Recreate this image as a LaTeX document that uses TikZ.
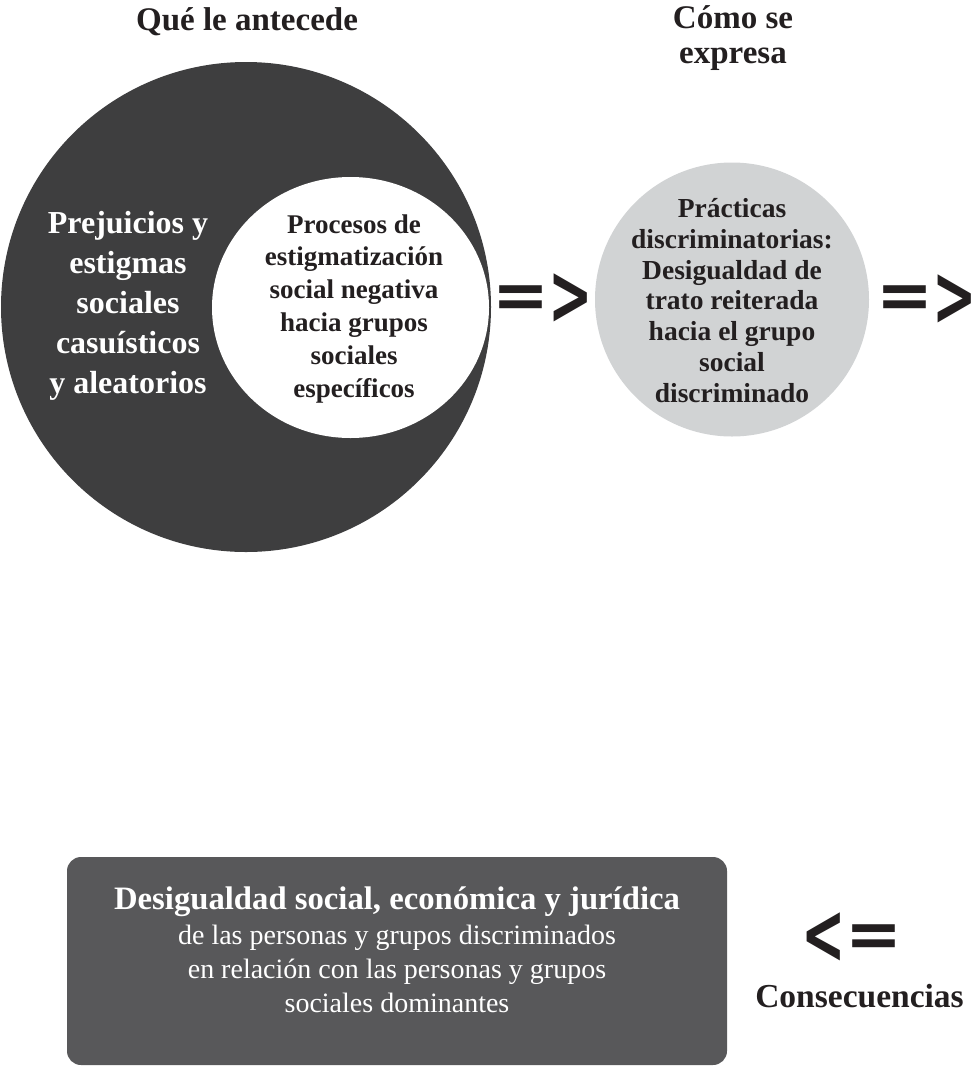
\documentclass[tikz,border=0pt]{standalone}
\usepackage{fontspec}
\usepackage{graphicx}
\setmainfont{Liberation Serif}
\newfontfamily\fDejaVu{DejaVu Sans}
\usetikzlibrary{shapes.geometric}
\definecolor{darkc}{HTML}{3E3E3F}
\definecolor{boxc}{HTML}{58585A}
\definecolor{grayc}{HTML}{D1D3D4}
\definecolor{ink}{HTML}{231F20}
\newcommand{\fs}[2]{\fontsize{#1}{#2}\selectfont}
\newcommand{\gtchev}{\raisebox{-0.1em}{\scalebox{0.78}[1.25]{>}}}
\newcommand{\ltchev}{\raisebox{-0.1em}{\scalebox{0.78}[1.25]{<}}}
\begin{document}
\begin{tikzpicture}[x=1pt,y=-1pt,
  every node/.style={inner sep=0pt,outer sep=0pt},
  txt/.style={align=center,anchor=base,text=ink,font=\bfseries},
  wtxt/.style={align=center,anchor=base,text=white},
  arr/.style={text=ink,font=\fDejaVu\bfseries\fs{68}{68}}]
\useasboundingbox (0,0) rectangle (976,1066);
% circles
\node[circle,fill=darkc,minimum size=490pt] (big) at (246,307) {};
\node[ellipse,fill=white,minimum width=277pt,minimum height=261pt] (inner) at (350.5,307.5) {};
\node[circle,fill=grayc,minimum size=274pt] (gray) at (732,299.5) {};
% titles (anchor = baseline of the last line)
\node[txt,font=\bfseries\fs{33}{35}] (t1) at (247,30) {Qué le antecede};
\node[txt,font=\bfseries\fs{33}{35}] (t2) at (733,63.5) {Cómo se\\expresa};
% texts
\node[wtxt,font=\bfseries\fs{32}{40}] (ltxt) at (128,393) {Prejuicios y\\estigmas\\sociales\\casuísticos\\y aleatorios};
\node[txt,font=\bfseries\fs{27}{32.8}] (itxt) at (354,397) {Procesos de\\estigmatización\\social negativa\\hacia grupos\\sociales\\específicos};
\node[txt,font=\bfseries\fs{27.5}{30.7}] (gtxt) at (732,402) {Prácticas\\discriminatorias:\\Desigualdad de\\trato reiterada\\hacia el grupo\\social\\discriminado};
% arrows
\node[arr] (a1) at (543,299.5) {\kern-0.08em=\kern-1pt\gtchev\kern-0.08em};
\node[arr] (a2) at (927,300) {\kern-0.08em=\kern-1pt\gtchev\kern-0.08em};
\node[arr] (a3) at (852,938.5) {\kern-0.08em\ltchev\kern-1pt=\kern-0.08em};
\node[txt,font=\bfseries\fs{33.5}{35}] (cons) at (859.5,1007) {Consecuencias};
% box
\node[fill=boxc,rounded corners=14pt,minimum width=660pt,minimum height=208pt] (box) at (397,961) {};
\node[wtxt,font=\bfseries\fs{32.7}{35}] (bh) at (397,909) {Desigualdad social, económica y jurídica};
\node[wtxt,font=\fs{28}{34}] (bl) at (397,1012) {de las personas y grupos discriminados\\en relación con las personas y grupos\\sociales dominantes};
\end{tikzpicture}
\end{document}
